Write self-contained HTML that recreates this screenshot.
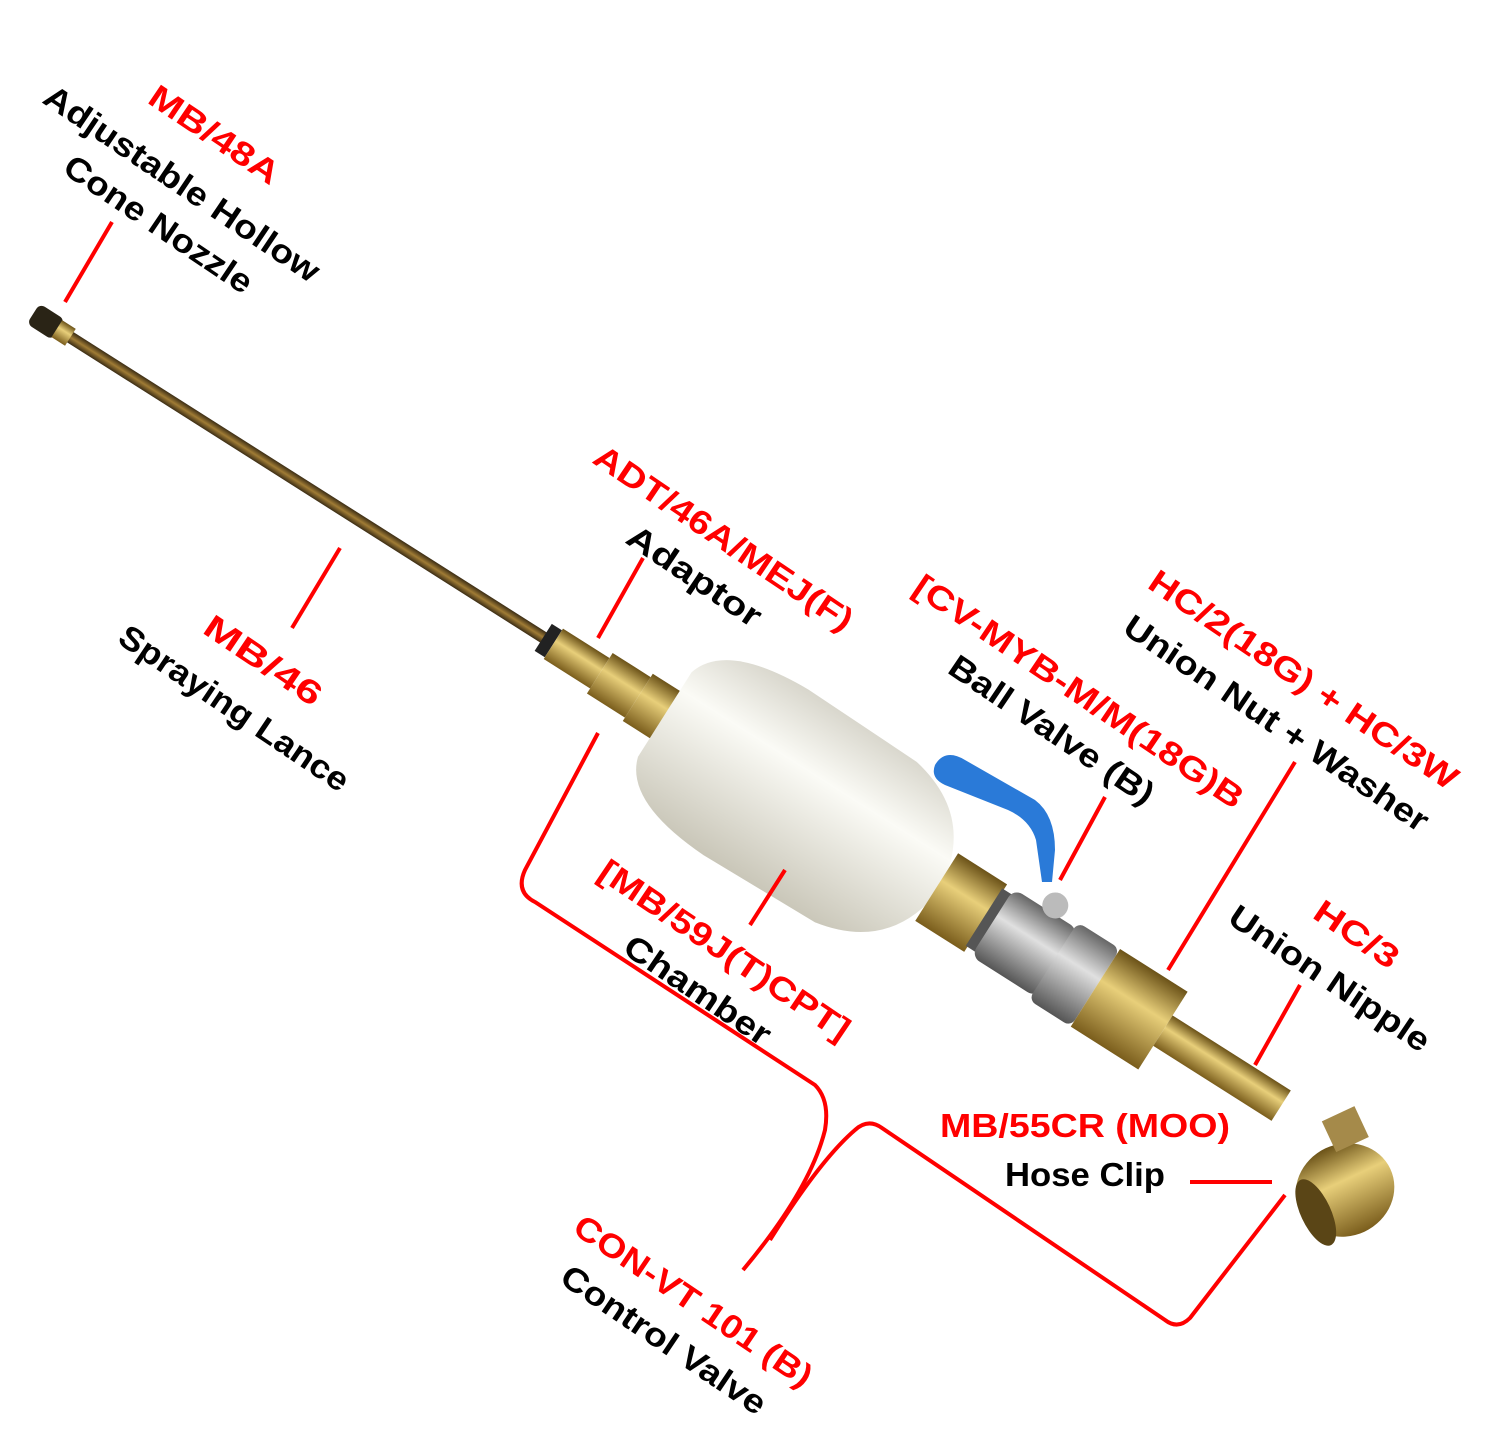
<!DOCTYPE html>
<html><head><meta charset="utf-8"><style>
html,body{margin:0;padding:0;background:#fff;}
svg{display:block;}
text{font-family:"Liberation Sans",sans-serif;font-weight:bold;font-size:33px;}
.r{fill:#f00}.k{fill:#000}
</style></head><body>
<svg width="1499" height="1448" viewBox="0 0 1499 1448" xmlns="http://www.w3.org/2000/svg">
<defs>
<linearGradient id="brass" x1="0" y1="0" x2="0" y2="1">
<stop offset="0" stop-color="#6b5218"/><stop offset=".4" stop-color="#e8cf7a"/><stop offset="1" stop-color="#7a5d1c"/></linearGradient>
<linearGradient id="lance" x1="0" y1="0" x2="0" y2="1">
<stop offset="0" stop-color="#3a2c14"/><stop offset=".5" stop-color="#a07c35"/><stop offset="1" stop-color="#3a2c14"/></linearGradient>
<linearGradient id="white" x1="0" y1="0" x2="0" y2="1">
<stop offset="0" stop-color="#d8d6cc"/><stop offset=".35" stop-color="#fbfbf6"/><stop offset="1" stop-color="#c9c6b8"/></linearGradient>
<linearGradient id="silver" x1="0" y1="0" x2="0" y2="1">
<stop offset="0" stop-color="#666"/><stop offset=".4" stop-color="#e0e0e0"/><stop offset="1" stop-color="#555"/></linearGradient>
</defs>

<g transform="translate(40,318) rotate(32.4)">
  <rect x="0" y="-6" width="605" height="12" fill="url(#lance)"/>
  <rect x="-8" y="-12" width="30" height="24" rx="6" fill="#2a2416"/>
  <rect x="20" y="-10" width="16" height="20" fill="url(#brass)"/>
  <rect x="596" y="-16" width="12" height="32" fill="#222"/>
  <rect x="608" y="-18" width="55" height="36" fill="url(#brass)"/>
  <rect x="663" y="-24" width="45" height="48" fill="url(#brass)"/>
  <rect x="708" y="-28" width="40" height="56" fill="url(#brass)"/>
  <path d="M740,-50 Q753,-95 848,-98 L978,-95 Q1058,-80 1066,0 Q1058,80 978,95 L848,98 Q753,95 740,50 Z" fill="url(#white)"/>
  <rect x="1062" y="-40" width="58" height="80" fill="url(#brass)"/>
  <rect x="1118" y="-34" width="12" height="68" fill="#555"/>
  <rect x="1128" y="-40" width="77" height="80" rx="10" fill="url(#silver)"/>
  <rect x="1200" y="-46" width="50" height="92" rx="8" fill="url(#silver)"/>
  <rect x="1250" y="-46" width="80" height="92" fill="url(#brass)"/>
  <rect x="1330" y="-18" width="140" height="36" fill="url(#brass)"/>
  <circle cx="1172" cy="-48" r="13" fill="#bbb"/>
</g>
<path d="M935,765 Q945,748 965,760 L1035,800 Q1055,815 1055,850 L1052,882 L1042,882 L1036,840 Q1030,820 1008,810 L945,785 Q930,778 935,765 Z" fill="#2a7ad8"/>
<g transform="translate(1345,1190) rotate(-25)">
  <ellipse cx="0" cy="0" rx="50" ry="46" fill="url(#brass)"/>
  <ellipse cx="-36" cy="8" rx="15" ry="36" fill="#5a4516"/>
  <rect x="8" y="-72" width="36" height="34" fill="#a58a4a"/>
</g>

<g stroke="#f00" stroke-width="4" fill="none">
<line x1="65" y1="302" x2="112" y2="222"/>
<line x1="292" y1="628" x2="340" y2="548"/>
<line x1="598" y1="638" x2="643" y2="558"/>
<line x1="750" y1="925" x2="785" y2="870"/>
<line x1="1060" y1="880" x2="1105" y2="797"/>
<line x1="1168" y1="970" x2="1295" y2="762"/>
<line x1="1255" y1="1065" x2="1300" y2="985"/>
<line x1="1190" y1="1182" x2="1272" y2="1182"/>
<path d="M598,733 L525,870 Q515,892 535,902 L815,1085 Q830,1100 825,1130 Q810,1190 743,1270"/>
<path d="M770,1240 Q820,1160 855,1130 Q868,1118 882,1128 L1165,1320 Q1178,1330 1190,1318 L1285,1195"/>
</g>

<text class="r" transform="translate(146,102) rotate(34)" textLength="150" lengthAdjust="spacingAndGlyphs">MB/48A</text>
<text class="k" transform="translate(41,102) rotate(34)" textLength="325" lengthAdjust="spacingAndGlyphs">Adjustable Hollow</text>
<text class="k" transform="translate(61,172) rotate(34)" textLength="220" lengthAdjust="spacingAndGlyphs">Cone Nozzle</text>
<text class="r" transform="translate(201,632) rotate(34)" textLength="135" lengthAdjust="spacingAndGlyphs">MB/46</text>
<text class="k" transform="translate(116,642) rotate(34)" textLength="270" lengthAdjust="spacingAndGlyphs">Spraying Lance</text>
<text class="r" transform="translate(591,462) rotate(34)" textLength="305" lengthAdjust="spacingAndGlyphs">ADT/46A/MEJ(F)</text>
<text class="k" transform="translate(624,542) rotate(34)" textLength="155" lengthAdjust="spacingAndGlyphs">Adaptor</text>
<text class="r" transform="translate(911,592) rotate(34)" textLength="390" lengthAdjust="spacingAndGlyphs">[CV-MYB-M/M(18G)B</text>
<text class="k" transform="translate(946,672) rotate(34)" textLength="240" lengthAdjust="spacingAndGlyphs">Ball Valve (B)</text>
<text class="r" transform="translate(1146,587) rotate(34)" textLength="365" lengthAdjust="spacingAndGlyphs">HC/2(18G) + HC/3W</text>
<text class="k" transform="translate(1121,632) rotate(34)" textLength="360" lengthAdjust="spacingAndGlyphs">Union Nut + Washer</text>
<text class="r" transform="translate(1311,917) rotate(34)" textLength="95" lengthAdjust="spacingAndGlyphs">HC/3</text>
<text class="k" transform="translate(1226,922) rotate(34)" textLength="235" lengthAdjust="spacingAndGlyphs">Union Nipple</text>
<text class="r" transform="translate(596,877) rotate(34)" textLength="295" lengthAdjust="spacingAndGlyphs">[MB/59J(T)CPT]</text>
<text class="k" transform="translate(621,952) rotate(34)" textLength="170" lengthAdjust="spacingAndGlyphs">Chamber</text>
<text class="r" transform="translate(571,1232) rotate(34)" textLength="280" lengthAdjust="spacingAndGlyphs">CON-VT 101 (B)</text>
<text class="k" transform="translate(558,1282) rotate(34)" textLength="240" lengthAdjust="spacingAndGlyphs">Control Valve</text>
<text class="r" x="940" y="1137" textLength="290" lengthAdjust="spacingAndGlyphs">MB/55CR (MOO)</text>
<text class="k" x="1005" y="1186" textLength="160" lengthAdjust="spacingAndGlyphs">Hose Clip</text>
</svg>
</body></html>
